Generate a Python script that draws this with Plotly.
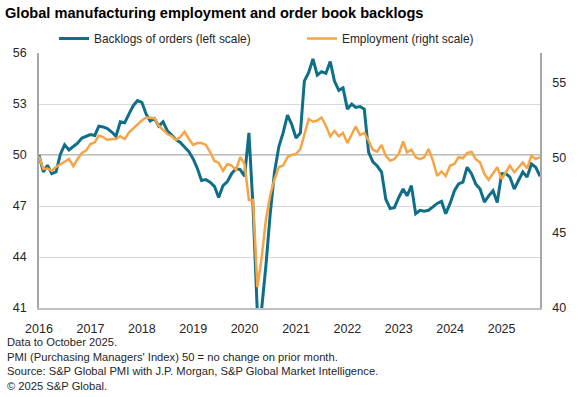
import pandas as pd
import plotly.graph_objects as go

# ---------------- data ----------------
start_month = "2016-01-01"
backlogs = [
    50.0, 49.0, 49.4, 48.9, 49.0, 50.05, 50.6, 50.3, 50.5, 50.7, 51.0, 51.1,
    51.2, 51.15, 51.7, 51.65, 51.55, 51.35, 51.1, 51.95, 51.9, 52.4, 52.9, 53.2,
    53.1, 52.4, 52.0, 52.15, 51.7, 51.95, 51.43, 51.17, 50.9, 50.74, 50.45, 50.2,
    49.77, 49.18, 48.5, 48.55, 48.4, 48.16, 47.5, 48.2, 48.44, 48.9, 49.2, 49.14,
    48.75, 51.3, 47.0, 40.7, 40.9, 43.5, 46.5, 49.0, 50.5, 51.3, 52.35, 51.8,
    51.0, 51.3, 54.35, 54.85, 55.65, 54.7, 54.9, 54.8, 55.5, 54.35, 53.8, 53.95,
    52.7, 53.0, 52.8, 52.85, 52.7, 50.15, 49.6, 49.35, 49.0, 47.4, 46.85, 46.9,
    47.5, 48.0, 47.6, 48.2, 46.55, 46.75, 46.7, 46.75, 46.95, 47.15, 47.27, 46.55,
    47.15, 47.9, 48.3, 48.4, 49.28, 48.9, 48.3, 48.0, 47.23, 47.6, 47.9, 47.2,
    48.9, 48.9, 48.7, 48.0, 48.5, 49.0, 48.7, 49.47, 49.28, 48.75,
]
employment = [
    50.1, 49.27, 49.3, 49.15, 49.4, 49.6, 49.75, 49.93, 49.45, 49.93, 50.33, 50.5,
    50.93, 51.05, 51.5, 51.4, 51.2, 51.27, 51.27, 51.45, 51.27, 51.7, 51.98, 52.2,
    52.5, 52.7, 52.7, 52.65, 52.15, 51.9, 51.6, 51.45, 51.2, 51.4, 51.75, 51.27,
    50.87, 51.0, 51.0, 50.87, 50.4, 49.8, 49.67, 49.15, 49.6, 49.5, 49.2, 50.05,
    49.6, 47.2, 47.2, 41.4, 43.3, 45.9, 47.5, 48.6, 49.4, 49.5, 50.05, 50.2,
    50.27, 50.6, 51.6, 52.6, 52.42, 52.5, 52.7, 52.15, 51.45, 51.8, 51.45, 51.67,
    51.0, 51.6, 52.1, 51.53, 51.67, 51.15, 50.55, 50.42, 50.87, 50.15, 49.82, 49.93,
    50.27, 51.1, 50.38, 50.55, 50.05, 49.93, 50.05, 50.6, 49.82, 48.8, 49.1, 48.8,
    49.5, 49.6, 50.05, 49.98, 50.33, 50.42, 49.93, 49.7, 48.93, 48.55, 48.93, 49.38,
    48.6, 49.1, 49.5, 49.05, 49.38, 49.7, 49.3, 50.15, 49.93, 50.05,
]
year_ticks = [2016, 2017, 2018, 2019, 2020, 2021, 2022, 2023, 2024, 2025]
left_ticks = [41, 44, 47, 50, 53, 56]
right_ticks = [40, 45, 50, 55]
no_change_level = 50

series_names = ["Backlogs of orders (left scale)", "Employment (right scale)"]
title_text = "Global manufacturing employment and order book backlogs"
footnotes = [
    "Data to October 2025.",
    "PMI (Purchasing Managers' Index) 50 = no change on prior month.",
    "Source: S&P Global PMI with J.P. Morgan, S&P Global Market Intelligence.",
    "\u00a9 2025 S&P Global.",
]

# ---------------- figure ----------------
months = pd.date_range(start_month, periods=len(backlogs), freq="MS")
BLUE = "#0f6e88"
ORANGE = "#f6a546"
FONT = "Liberation Sans, Arial, sans-serif"
TXT = "#262626"

fig = go.Figure()
fig.add_trace(go.Scatter(x=months, y=backlogs, name=series_names[0], mode="lines",
                         line=dict(color=BLUE, width=3.0), yaxis="y"))
fig.add_trace(go.Scatter(x=months, y=employment, name=series_names[1], mode="lines",
                         line=dict(color=ORANGE, width=2.5), yaxis="y2"))

fig.add_shape(type="line", xref="paper", x0=0, x1=1, yref="y", y0=no_change_level,
              y1=no_change_level, line=dict(color="#a6a6a6", width=1.5), layer="below")

fig.update_layout(
    width=579, height=397,
    margin=dict(l=39, r=39, t=53, b=89, autoexpand=False),
    paper_bgcolor="white", plot_bgcolor="white",
    font=dict(family=FONT, size=12.5, color=TXT),
    title=dict(text="<b>" + title_text + "</b>", x=5 / 579, xanchor="left",
               xref="container", y=1 - 13 / 397, yref="container", yanchor="middle",
               font=dict(family=FONT, size=14.6, color="#000000")),
    showlegend=True,
    legend=dict(orientation="h", x=(54 - 39) / 501, xanchor="left",
                y=1 + (53 - 24) / 255, yanchor="top", yref="paper",
                font=dict(family=FONT, size=11.9, color=TXT),
                entrywidth=203, entrywidthmode="pixels", bgcolor="rgba(0,0,0,0)",
                itemwidth=30, tracegroupgap=0),
    xaxis=dict(type="date",
               range=[months[0], months[-1]],
               tickvals=[pd.Timestamp(f"{y}-01-01") for y in year_ticks],
               ticktext=[str(y) for y in year_ticks],
               showgrid=False, showline=True, linecolor="#bfbfbf", linewidth=1.5,
               ticks="", ticklabelstandoff=8, zeroline=False, automargin=False,
               tickfont=dict(size=12.5, color=TXT)),
    yaxis=dict(range=[41, 56], tickvals=left_ticks, showgrid=True,
               gridcolor="#d9d9d9", gridwidth=1, showline=True, linecolor="#a6a6a6",
               linewidth=1.5, ticks="", ticklabelstandoff=8, zeroline=False,
               automargin=False, tickfont=dict(size=12.5, color=TXT)),
    yaxis2=dict(range=[40, 57], tickvals=right_ticks, overlaying="y", side="right",
                showgrid=False, showline=True, linecolor="#a6a6a6", linewidth=1.5,
                ticks="", ticklabelstandoff=8, zeroline=False, automargin=False,
                tickfont=dict(size=12.5, color=TXT)),
    annotations=[dict(text="<br>".join(footnotes), xref="paper", yref="paper",
                      x=(5 - 39) / 501, xanchor="left", y=-(334 - 308) / 255,
                      yanchor="top", align="left", showarrow=False,
                      font=dict(family=FONT, size=11.2, color=TXT))],
)

fig.write_html("out.html", config={"displayModeBar": False},
               post_script="document.body.style.margin='0';document.body.style.padding='0';")
